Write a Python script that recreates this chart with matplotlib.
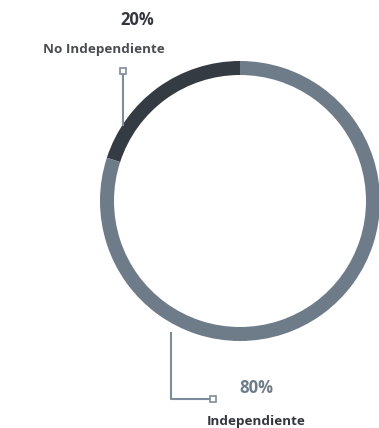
import matplotlib.pyplot as plt

categorias = ['No Independiente', 'Independiente']
valores = [20, 80]
etiquetas = ['20%', '80%']
cores = ['#353b42', '#6e7c89']

W, H = 379, 428
fig = plt.figure(figsize=(W / 100, H / 100), dpi=100)
ax = fig.add_axes([0, 0, 1, 1])

# donut (coordenadas em pixels, y para cima)
cx, cy, r = 240, H - 201, 140
ax.pie(valores, colors=cores, startangle=90, counterclock=True,
       center=(cx, cy), radius=r, wedgeprops=dict(width=14, linewidth=0))

ax.set_xlim(0, W)
ax.set_ylim(0, H)
ax.set_aspect('auto')
ax.axis('off')

cor_linha = '#7d8c9b'
fonte = 'Open Sans'

# rotulo No Independiente
ax.plot([123, 123], [H - 125, H - 71], color=cor_linha, lw=1.5)
ax.plot(123, H - 71, marker='s', ms=4, mfc='white', mec=cor_linha, mew=1.2)
ax.text(137, H - 20, etiquetas[0], ha='center', va='center', fontsize=12,
        fontweight='bold', color='#33373d', family=fonte)
ax.text(104, H - 49, categorias[0], ha='center', va='center', fontsize=9.7,
        fontweight='bold', color='#4a4d52', family=fonte)

# rotulo Independiente
ax.plot([171, 171, 212], [H - 333, H - 399, H - 399], color=cor_linha, lw=1.5)
ax.plot(213, H - 399, marker='s', ms=4, mfc='white', mec=cor_linha, mew=1.2)
ax.text(256, H - 388, etiquetas[1], ha='center', va='center', fontsize=12,
        fontweight='bold', color='#6e7c89', family=fonte)
ax.text(256, H - 421, categorias[1], ha='center', va='center', fontsize=9.7,
        fontweight='bold', color='#33373d', family=fonte)

fig.savefig('out.png', dpi=100)
